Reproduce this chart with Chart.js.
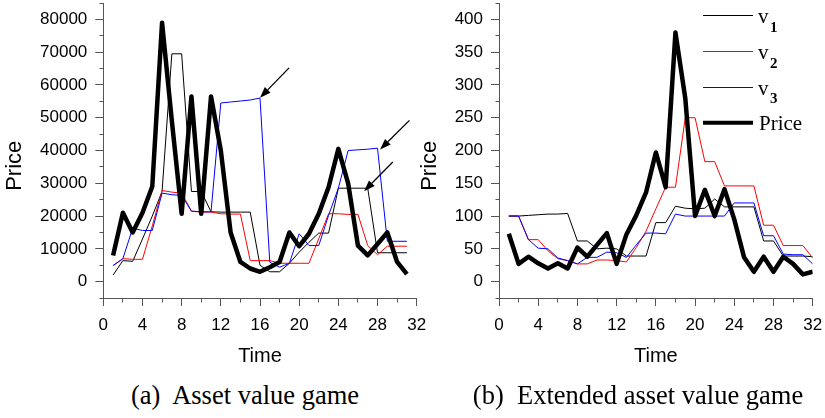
<!DOCTYPE html>
<html>
<head>
<meta charset="utf-8">
<script src="https://cdn.jsdelivr.net/npm/chart.js@4/dist/chart.umd.min.js"></script>
<style>
html,body{margin:0;padding:0;background:#fff;}
#wrap{position:relative;width:825px;height:418px;overflow:hidden;background:#fff;}
canvas{position:absolute;top:0;}
#cA{left:0px;}
#cB{left:415px;}
.cap{position:absolute;top:380px;font-family:"Liberation Serif","Times New Roman",serif;font-size:26.5px;line-height:30px;white-space:pre;transform:translateX(-50%);color:#000;}
</style>
</head>
<body>
<div id="wrap">
  <canvas id="cA" width="430" height="370"></canvas>
  <canvas id="cB" width="410" height="370"></canvas>
  <div class="cap" style="left:245px;">(a)  Asset value game</div>
  <div class="cap" style="left:638px;">(b)  Extended asset value game</div>
</div>
<script>
// ---------------- data: (a) Asset value game ----------------
const timeA = [1,2,3,4,5,6,7,8,9,10,11,12,13,14,15,16,17,18,19,20,21,22,23,24,25,26,27,28,29,30,31];
const v1A = [2000,6400,6200,13000,20000,27500,69500,69500,27500,27500,21300,21200,21200,21200,21200,5000,3000,3000,5600,9000,12000,14800,14800,28500,28500,28500,28500,8800,8800,8800,8800];
const v2A = [4900,7000,6800,6800,17000,27800,27300,27000,21500,21200,21200,20700,20600,20600,6400,6400,6400,5600,5600,5600,5600,13100,20700,20700,20500,20500,11000,8200,10800,10800,10800];
const v3A = [4900,7000,16300,15600,15600,27000,26500,26300,21500,21300,21300,54500,54800,55100,55400,56000,5900,4400,5600,14600,11000,11000,20200,28500,40000,40200,40400,40700,12300,12300,12300];
const priceA = [8000,21000,15000,21000,29000,79000,49000,20700,56500,20700,56500,40000,15000,6000,4000,3000,4400,6000,15000,10800,14600,20700,28800,40500,30000,11000,8000,11500,15000,6000,2300];

// ---------------- data: (b) Extended asset value game ----------------
const timeB = [1,2,3,4,5,6,7,8,9,10,11,12,13,14,15,16,17,18,19,20,21,22,23,24,25,26,27,28,29,30,31,32];
const v1B = [100,100,101,102,103,103,104,62,62,50,51,50,39,39,39,90,90,115,112,111,112,126,114,114,114,114,62,62,39,39,39,38];
const v2B = [100,100,64,64,47,35,32,27,27,33,33,32,30,52,77,111,144,144,250,250,183,183,146,146,146,146,86,86,55,55,55,36];
const v3B = [100,100,64,51,50,36,32,27,37,37,45,44,37,56,74,74,73,103,100,100,100,100,100,120,120,120,70,70,42,41,41,27];
const priceB = [73,27,38,28,20,28,20,52,38,56,74,27,72,101,136,197,144,380,280,100,140,100,141,95,37,15,38,15,38,27,11,15];

// ---------------- ticks ----------------
const xTicks = [0,4,8,12,16,20,24,28,32];
const xMinor = [2,6,10,14,18,22,26,30];
const yTicksA = [0,10000,20000,30000,40000,50000,60000,70000,80000];
const yMinorA = [-5000,5000,15000,25000,35000,45000,55000,65000,75000,85000];
const yTicksB = [0,50,100,150,200,250,300,350,400];
const yMinorB = [-25,25,75,125,175,225,275,325,375,425];

// annotation arrows in chart (a), data units
const arrowFromA = [[18.97,65200],[31.26,49200],[29.56,36500]];
const arrowToA   = [[16.0,56100],[28.26,40300],[26.63,27600]];

// legend (chart b)
const seriesNames = ['v1','v2','v3','Price'];
const COLORS = {v1:'#000000', v2:'#ff0000', v3:'#0000ff', Price:'#000000'};
const WIDTHS = {v1:1, v2:1, v3:1, Price:4.5};
const AXIS = '#555555';
const SANS = '"Liberation Sans", Arial, Helvetica, sans-serif';
const SERIF = '"Liberation Serif", "Times New Roman", serif';

function series(t, v){ return t.map((x,i)=>({x:x, y:v[i]})); }

function makeDatasets(t, v1, v2, v3, p){
  const base = {pointRadius:0, pointHoverRadius:0, tension:0, fill:false, borderJoinStyle:'round', borderCapStyle:'butt'};
  return [
    Object.assign({label:'Price', data:series(t,p), borderColor:COLORS.Price, borderWidth:WIDTHS.Price, order:0}, base),
    Object.assign({label:'v3', data:series(t,v3), borderColor:COLORS.v3, borderWidth:WIDTHS.v3, order:1}, base),
    Object.assign({label:'v2', data:series(t,v2), borderColor:COLORS.v2, borderWidth:WIDTHS.v2, order:2}, base),
    Object.assign({label:'v1', data:series(t,v1), borderColor:COLORS.v1, borderWidth:WIDTHS.v1, order:3}, base)
  ];
}

function alignPx(p){ return Math.round(p - 0.5) + 0.5; }

const minorTicks = {
  id:'minorTicks',
  afterDraw(chart, args, opts){
    const ctx = chart.ctx, xs = chart.scales.x, ys = chart.scales.y;
    ctx.save();
    ctx.strokeStyle = AXIS; ctx.lineWidth = 1;
    ctx.beginPath();
    (opts.y||[]).forEach(v=>{ const py = alignPx(ys.getPixelForValue(v)); const xr = alignPx(ys.right); ctx.moveTo(xr-4, py); ctx.lineTo(xr, py); });
    (opts.x||[]).forEach(v=>{ const px = alignPx(xs.getPixelForValue(v)); const yt = alignPx(xs.top); ctx.moveTo(px, yt); ctx.lineTo(px, yt+4); });
    ctx.stroke();
    ctx.restore();
  }
};

const arrows = {
  id:'arrows',
  afterDatasetsDraw(chart, args, opts){
    if(!opts.from) return;
    const ctx = chart.ctx, xs = chart.scales.x, ys = chart.scales.y;
    ctx.save();
    ctx.strokeStyle = '#000'; ctx.fillStyle = '#000'; ctx.lineWidth = 1.3;
    opts.from.forEach((f,i)=>{
      const to = opts.to[i];
      const x1 = xs.getPixelForValue(f[0]), y1 = ys.getPixelForValue(f[1]);
      const x2 = xs.getPixelForValue(to[0]), y2 = ys.getPixelForValue(to[1]);
      const a = Math.atan2(y2-y1, x2-x1), L = 11, W = 4;
      const bx = x2 - L*Math.cos(a), by = y2 - L*Math.sin(a);
      ctx.beginPath(); ctx.moveTo(x1,y1); ctx.lineTo(bx,by); ctx.stroke();
      ctx.beginPath(); ctx.moveTo(x2,y2);
      ctx.lineTo(bx + W*Math.sin(a), by - W*Math.cos(a));
      ctx.lineTo(bx - W*Math.sin(a), by + W*Math.cos(a));
      ctx.closePath(); ctx.fill();
    });
    ctx.restore();
  }
};

// legend with subscripts, drawn on the canvas of chart (b)
const subLegend = {
  id:'subLegend',
  afterDraw(chart, args, opts){
    if(!opts.show) return;
    const ctx = chart.ctx;
    const rowsY = [15.7, 51.7, 87.3, 122.7];
    const x0 = 288, x1 = 338, tx = 343;
    ctx.save();
    seriesNames.forEach((n,i)=>{
      const y = rowsY[i];
      ctx.beginPath();
      ctx.strokeStyle = COLORS[n];
      ctx.lineWidth = n === 'Price' ? 4 : 1;
      const yy = n === 'Price' ? y : alignPx(y);
      ctx.moveTo(x0, yy); ctx.lineTo(x1, yy); ctx.stroke();
      ctx.fillStyle = '#000';
      ctx.textAlign = 'left'; ctx.textBaseline = 'alphabetic';
      if(n === 'Price'){
        ctx.font = '21px ' + SERIF;
        ctx.fillText('Price', tx + 1, y + 7.3);
      } else {
        ctx.font = '21px ' + SERIF;
        ctx.fillText('v', tx, y + 7.6);
        const w = ctx.measureText('v').width;
        ctx.font = 'bold 15px ' + SERIF;
        ctx.fillText(n.slice(1), tx + w + 1.5, y + 15.8);
      }
    });
    ctx.restore();
  }
};

function makeChart(id, t, v1, v2, v3, p, yMin, yMax, yTicks, yMinor, yAxisWidth, padRight, arrowCfg, showLegend){
  return new Chart(document.getElementById(id), {
    type:'line',
    data:{datasets: makeDatasets(t, v1, v2, v3, p)},
    plugins:[minorTicks, arrows, subLegend],
    options:{
      responsive:false, animation:false, devicePixelRatio:1,
      layout:{padding:{top:3, right:padRight, left:0, bottom:0}},
      plugins:{
        legend:{display:false}, tooltip:{enabled:false},
        minorTicks:{x:xMinor, y:yMinor},
        arrows: arrowCfg,
        subLegend:{show:showLegend}
      },
      scales:{
        x:{
          type:'linear', min:0, max:32,
          border:{display:true, color:AXIS, width:1},
          grid:{drawOnChartArea:false, drawTicks:true, tickLength:8, color:AXIS, tickColor:AXIS},
          afterBuildTicks:s=>{ s.ticks = xTicks.map(v=>({value:v})); },
          ticks:{autoSkip:false, maxRotation:0, padding:9, color:'#000', font:{family:SANS, size:17}, callback:v=>String(v)},
          title:{display:true, text:'Time', color:'#000', font:{family:SANS, size:20}, padding:{top:0, bottom:2}},
          afterFit:s=>{ s.height = 72; s.paddingLeft = 0; s.paddingRight = 0; }
        },
        y:{
          type:'linear', min:yMin, max:yMax,
          border:{display:true, color:AXIS, width:1},
          grid:{drawOnChartArea:false, drawTicks:true, tickLength:8, color:AXIS, tickColor:AXIS},
          afterBuildTicks:s=>{ s.ticks = yTicks.map(v=>({value:v})); },
          ticks:{autoSkip:false, padding:8, color:'#000', font:{family:SANS, size:17}, callback:v=>String(v)},
          title:{display:true, text:'Price     ', color:'#000', font:{family:SANS, size:22, lineHeight:1}, padding:{top:4, bottom:0}},
          afterFit:s=>{ s.width = yAxisWidth; s.paddingTop = 0; s.paddingBottom = 0; }
        }
      }
    }
  });
}

makeChart('cA', timeA, v1A, v2A, v3A, priceA, -5000, 85000, yTicksA, yMinorA, 103.3, 13.3, {from:arrowFromA, to:arrowToA}, false);
makeChart('cB', timeB, v1B, v2B, v3B, priceB, -25, 425, yTicksB, yMinorB, 84, 12.3, {}, true);
</script>
</body>
</html>
